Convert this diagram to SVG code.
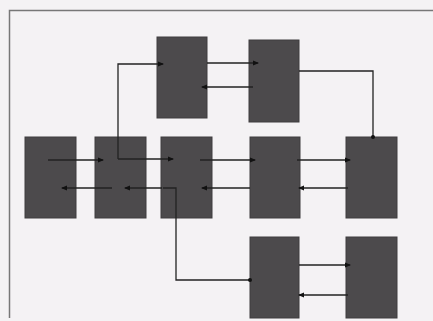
<svg xmlns="http://www.w3.org/2000/svg" width="433" height="321" viewBox="0 0 433 321">
<defs>
<style>
.box{fill:#4c4a4c;stroke:#3e3c3e;stroke-width:1}
.ln{fill:none;stroke:#222;stroke-width:1.3}
</style>
<marker id="ah" viewBox="0 0 6 6" refX="5" refY="3" markerWidth="6" markerHeight="6" orient="auto" markerUnits="userSpaceOnUse">
<path d="M0,0.5 L6,3 L0,5.5 Z" fill="#111"/>
</marker>
<marker id="dot" viewBox="0 0 6 6" refX="3" refY="3" markerWidth="4" markerHeight="4" markerUnits="userSpaceOnUse">
<circle cx="3" cy="3" r="3" fill="#111"/>
</marker>
</defs>
<rect x="0" y="0" width="433" height="321" fill="#f4f2f4"/>
<path d="M9.5,318 L9.5,10.5 L433,10.5" fill="none" stroke="#777" stroke-width="1.5"/>
<g id="nA"><rect class="box" x="157" y="37" width="50" height="81"/></g>
<g id="nB"><rect class="box" x="249" y="40" width="50" height="82"/></g>
<g id="nC1"><rect class="box" x="25" y="137" width="51" height="81"/></g>
<g id="nC2"><rect class="box" x="95" y="137" width="51" height="81"/></g>
<g id="nC3"><rect class="box" x="161" y="137" width="51" height="81"/></g>
<g id="nC4"><rect class="box" x="250" y="137" width="50" height="81"/></g>
<g id="nC5"><rect class="box" x="346" y="137" width="51" height="81"/></g>
<g id="nD1"><rect class="box" x="250" y="237" width="49" height="81"/></g>
<g id="nD2"><rect class="box" x="346" y="237" width="51" height="81"/></g>
<g id="connectors">
<path class="ln" d="M118,159 L118,64 L163,64" marker-end="url(#ah)"/>
<path class="ln" d="M118,159 L173,159" marker-end="url(#ah)"/>
<path class="ln" d="M207,63 L258,63" marker-end="url(#ah)"/>
<path class="ln" d="M253,87 L202,87" marker-end="url(#ah)"/>
<path class="ln" d="M299,71 L373,71 L373,137" marker-end="url(#dot)"/>
<path class="ln" d="M48,160 L103,160" marker-end="url(#ah)"/>
<path class="ln" d="M200,160 L255,160" marker-end="url(#ah)"/>
<path class="ln" d="M297,160 L350,160" marker-end="url(#ah)"/>
<path class="ln" d="M348,188 L299,188" marker-end="url(#ah)"/>
<path class="ln" d="M250,188 L202,188" marker-end="url(#ah)"/>
<path class="ln" d="M162,188 L125,188" marker-end="url(#ah)"/>
<path class="ln" d="M112,188 L62,188" marker-end="url(#ah)"/>
<path class="ln" d="M163,188 L176,188 L176,280 L250,280" marker-end="url(#dot)"/>
<path class="ln" d="M299,265 L350,265" marker-end="url(#ah)"/>
<path class="ln" d="M348,295 L299,295" marker-end="url(#ah)"/>
</g>
</svg>
